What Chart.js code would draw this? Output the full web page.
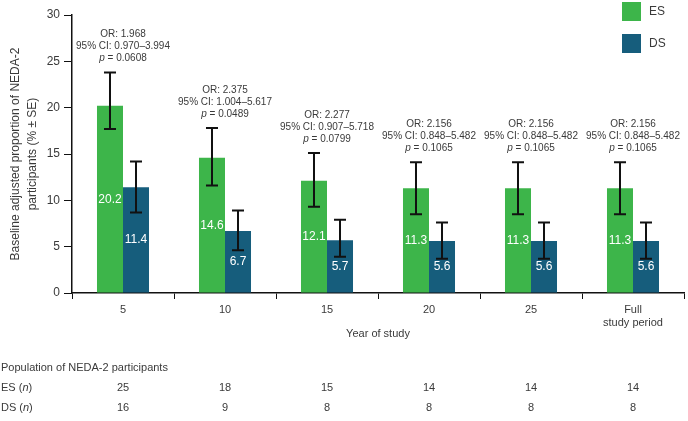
<!DOCTYPE html>
<html>
<head>
<meta charset="utf-8">
<script src="https://cdn.jsdelivr.net/npm/chart.js@4"></script>
<style>
  html, body { margin: 0; padding: 0; background: #fff; }
  #wrap { width: 688px; height: 421px; }
</style>
</head>
<body>
<div id="wrap"><canvas id="myChart" width="688" height="421"></canvas></div>
<script>
// chart data
const years = ['5', '10', '15', '20', '25', ['Full', 'study period']];
const esValues = [20.2, 14.6, 12.1, 11.3, 11.3, 11.3];
const dsValues = [11.4, 6.7, 5.7, 5.6, 5.6, 5.6];
const esLow = [17.7, 11.6, 9.3, 8.5, 8.5, 8.5];
const esHigh = [23.8, 17.8, 15.1, 14.1, 14.1, 14.1];
const dsLow = [8.7, 4.6, 3.9, 3.7, 3.7, 3.7];
const dsHigh = [14.2, 8.9, 7.9, 7.6, 7.6, 7.6];
const oddsRatios = ['1.968', '2.375', '2.277', '2.156', '2.156', '2.156'];
const confIntervals = ['0.970–3.994', '1.004–5.617', '0.907–5.718', '0.848–5.482', '0.848–5.482', '0.848–5.482'];
const pValues = ['0.0608', '0.0489', '0.0799', '0.1065', '0.1065', '0.1065'];
const esCounts = [25, 18, 15, 14, 14, 14];
const dsCounts = [16, 9, 8, 8, 8, 8];
const yTicks = [0, 5, 10, 15, 20, 25, 30];

const GREEN = '#3db54a';
const BLUE = '#165d7c';
const TEXT = '#3a3a3a';
const FONT = '"Liberation Sans", Arial, sans-serif';

const errorBars = {
    id: 'errorBars',
    afterDatasetsDraw(chart) {
        const ctx = chart.ctx;
        const y = chart.scales.y;
        const ranges = [[esLow, esHigh], [dsLow, dsHigh]];
        ctx.save();
        ctx.strokeStyle = '#111';
        ctx.lineWidth = 2;
        ranges.forEach((r, di) => {
            chart.getDatasetMeta(di).data.forEach((bar, i) => {
                const x = bar.x;
                const top = y.getPixelForValue(r[1][i]);
                const bot = y.getPixelForValue(r[0][i]);
                ctx.beginPath();
                ctx.moveTo(x, top); ctx.lineTo(x, bot);
                ctx.moveTo(x - 6, top); ctx.lineTo(x + 6, top);
                ctx.moveTo(x - 6, bot); ctx.lineTo(x + 6, bot);
                ctx.stroke();
            });
        });
        // value labels inside bars
        ctx.fillStyle = '#fff';
        ctx.font = '12px ' + FONT;
        ctx.textAlign = 'center';
        ctx.textBaseline = 'middle';
        [esValues, dsValues].forEach((vals, di) => {
            chart.getDatasetMeta(di).data.forEach((bar, i) => {
                ctx.fillText(vals[i].toFixed(1), bar.x, y.getPixelForValue(vals[i] / 2));
            });
        });
        ctx.restore();
    }
};

const annotations = {
    id: 'annotations',
    afterDraw(chart) {
        const ctx = chart.ctx;
        const x = chart.scales.x;
        const y = chart.scales.y;
        ctx.save();
        ctx.fillStyle = TEXT;
        ctx.textBaseline = 'middle';
        const small = '10px ' + FONT;
        const smallIt = 'italic 10px ' + FONT;
        // OR text above each group
        years.forEach((c, i) => {
            const cx = x.getPixelForValue(i);
            const base = y.getPixelForValue(esHigh[i]) - 14;
            ctx.font = small;
            ctx.textAlign = 'center';
            ctx.fillText('OR: ' + oddsRatios[i], cx, base - 24);
            ctx.fillText('95% CI: ' + confIntervals[i], cx, base - 12);
            const pTxt = ' = ' + pValues[i];
            ctx.font = smallIt;
            const wP = ctx.measureText('p').width;
            ctx.font = small;
            const wRest = ctx.measureText(pTxt).width;
            const startX = cx - (wP + wRest) / 2;
            ctx.textAlign = 'left';
            ctx.font = smallIt;
            ctx.fillText('p', startX, base);
            ctx.font = small;
            ctx.fillText(pTxt, startX + wP, base);
        });

        // legend
        ctx.font = '12px ' + FONT;
        ctx.textAlign = 'left';
        [['ES', GREEN], ['DS', BLUE]].forEach((l, i) => {
            const top = 2 + i * 32;
            ctx.fillStyle = l[1];
            ctx.fillRect(622, top, 19, 19);
            ctx.fillStyle = TEXT;
            ctx.fillText(l[0], 649, top + 10);
        });

        // table of participants
        const rowY = [368, 388, 408];
        ctx.font = '11px ' + FONT;
        ctx.fillStyle = TEXT;
        ctx.fillText('Population of NEDA-2 participants', 1, rowY[0]);
        [['ES', esCounts], ['DS', dsCounts]].forEach((row, r) => {
            const yy = rowY[r + 1];
            ctx.textAlign = 'left';
            ctx.font = '11px ' + FONT;
            ctx.fillText(row[0] + ' (', 1, yy);
            let w = ctx.measureText(row[0] + ' (').width;
            ctx.font = 'italic 11px ' + FONT;
            ctx.fillText('n', 1 + w, yy);
            w += ctx.measureText('n').width;
            ctx.font = '11px ' + FONT;
            ctx.fillText(')', 1 + w, yy);
            ctx.textAlign = 'center';
            row[1].forEach((n, i) => {
                ctx.fillText(String(n), x.getPixelForValue(i), yy);
            });
        });
        ctx.restore();
    }
};

const data = {
    labels: years,
    datasets: [
        {
            label: 'ES',
            data: esValues,
            backgroundColor: GREEN,
            categoryPercentage: 0.51,
            barPercentage: 1
        },
        {
            label: 'DS',
            data: dsValues,
            backgroundColor: BLUE,
            categoryPercentage: 0.51,
            barPercentage: 1
        }
    ]
};

const config = {
    type: 'bar',
    data: data,
    options: {
        responsive: false,
        animation: false,
        layout: {
            padding: { left: 0, right: 4, top: 15, bottom: 80 }
        },
        plugins: {
            legend: { display: false },
            tooltip: { enabled: false }
        },
        scales: {
            x: {
                grid: {
                    display: true,
                    drawOnChartArea: false,
                    color: '#111',
                    tickLength: 6,
                    offset: true
                },
                border: { color: '#111', width: 1.5 },
                ticks: {
                    color: TEXT,
                    font: { family: FONT, size: 11 },
                    maxRotation: 0,
                    padding: 4
                },
                title: {
                    display: true,
                    text: 'Year of study',
                    color: TEXT,
                    font: { family: FONT, size: 11 },
                    padding: { top: 0, bottom: 0 }
                },
                afterFit(scale) { scale.height = 48; }
            },
            y: {
                min: 0,
                max: 30,
                afterBuildTicks(scale) {
                    scale.ticks = yTicks.map(v => ({ value: v }));
                },
                grid: {
                    display: true,
                    drawOnChartArea: false,
                    color: '#111',
                    tickLength: 8
                },
                border: { color: '#111', width: 1.5 },
                ticks: {
                    color: TEXT,
                    font: { family: FONT, size: 12 },
                    padding: 4
                },
                title: {
                    display: true,
                    text: ['Baseline adjusted proportion of NEDA-2', 'participants (% ± SE)'],
                    color: TEXT,
                    font: { family: FONT, size: 12, lineHeight: 1.35 },
                    padding: { top: 8, bottom: 2 }
                },
                afterFit(scale) { scale.width = 72; }
            }
        }
    },
    plugins: [errorBars, annotations]
};

const ctx = document.getElementById('myChart').getContext('2d');
const myChart = new Chart(ctx, config);
</script>
</body>
</html>
